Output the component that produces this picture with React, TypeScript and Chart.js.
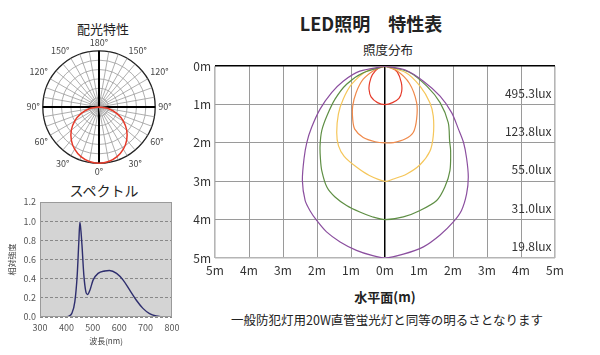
import React, { useEffect, useRef } from 'react';
import { Chart, registerables } from 'chart.js';

Chart.register(...registerables);

const FONT = '"Noto Sans CJK JP", "Noto Sans", sans-serif';
Chart.defaults.font.family = FONT;

// ---------- 配光特性 (polar) ----------
const polarLabels = [
  '180°', '', '', '150°', '', '', '120°', '', '', '90°', '', '',
  '60°', '', '', '30°', '', '', '0°', '', '', '30°', '', '',
  '60°', '', '', '90°', '', '', '120°', '', '', '150°', '', '',
];
const polarValues = [
  0, 0, 0, 0, 0, 0, 0, 0, 0, 0, 1.05, 2.05,
  3.0, 3.86, 4.6, 5.2, 5.64, 5.91, 6.0, 5.91, 5.64, 5.2, 4.6, 3.86,
  3.0, 2.05, 1.05, 0, 0, 0, 0, 0, 0, 0, 0, 0,
];

// ---------- スペクトル ----------
const spectrumNm = [400, 410, 420, 432, 441, 447, 451, 455, 459, 466, 474, 480, 489, 501, 520, 545, 563, 590, 615, 640, 665, 690, 715, 740, 765];
const spectrumIntensity = [0, 0.01, 0.035, 0.16, 0.44, 0.78, 0.99, 0.9, 0.75, 0.44, 0.26, 0.235, 0.28, 0.385, 0.455, 0.48, 0.485, 0.455, 0.385, 0.28, 0.175, 0.09, 0.035, 0.01, 0];

// ---------- 照度分布 (isolux contours, x: horizontal m, y: depth m) ----------
const redX = [0, -0.18, -0.37, -0.45, -0.47, -0.41, -0.22, 0, 0.22, 0.41, 0.49, 0.48, 0.36, 0.18, 0];
const redY = [0, 0.04, 0.22, 0.42, 0.6, 0.8, 0.95, 1.0, 0.95, 0.84, 0.66, 0.43, 0.15, 0.03, 0];
const orangeX = [0, -0.29, -0.64, -0.85, -0.95, -0.95, -0.89, -0.64, -0.29, 0, 0.25, 0.59, 0.83, 0.93, 0.93, 0.72, 0.35, 0];
const orangeY = [0, 0.09, 0.34, 0.69, 1.04, 1.38, 1.64, 1.86, 1.97, 2.0, 1.99, 1.9, 1.73, 1.38, 0.95, 0.45, 0.12, 0];
const yellowX = [0, -0.54, -0.98, -1.23, -1.37, -1.42, -1.37, -1.2, -0.84, -0.46, 0, 0.25, 0.64, 1.03, 1.32, 1.42, 1.42, 1.32, 1.03, 0.62, 0];
const yellowY = [0, 0.13, 0.47, 0.86, 1.24, 1.73, 2.07, 2.35, 2.63, 2.85, 3.0, 2.94, 2.81, 2.57, 2.22, 1.81, 1.3, 0.95, 0.52, 0.17, 0];
const greenX = [0, -0.64, -1.13, -1.47, -1.71, -1.86, -1.91, -1.9, -1.86, -1.71, -1.47, -1.13, -0.74, -0.36, 0, 0.54, 1.03, 1.52, 1.76, 1.91, 1.93, 1.9, 1.86, 1.62, 1.23, 0.7, 0];
const greenY = [0, 0.17, 0.47, 0.86, 1.3, 1.68, 2.07, 2.4, 2.72, 3.15, 3.41, 3.63, 3.8, 3.93, 4.0, 3.93, 3.76, 3.5, 3.15, 2.72, 2.2, 1.95, 1.47, 0.95, 0.52, 0.15, 0];
const purpleX = [0, -0.74, -1.23, -1.57, -1.91, -2.16, -2.3, -2.38, -2.43, -2.35, -2.21, -2.01, -1.72, -1.32, -0.84, -0.36, 0, 0.54, 1.13, 1.62, 2.01, 2.25, 2.4, 2.45, 2.4, 2.31, 2.16, 1.96, 1.62, 1.13, 0.6, 0];
const purpleY = [0, 0.13, 0.39, 0.69, 1.12, 1.6, 1.99, 2.4, 2.98, 3.5, 3.76, 4.02, 4.32, 4.58, 4.8, 4.94, 5.0, 4.9, 4.71, 4.4, 4.06, 3.76, 3.33, 2.89, 2.4, 1.99, 1.64, 1.21, 0.78, 0.39, 0.1, 0];

const luxLabels = ['495.3lux', '123.8lux', '55.0lux', '31.0lux', '19.8lux'];
const luxLabelDepth = [0.72, 1.71, 2.69, 3.7, 4.69];
const luxLabelX = 4.9;

const contours = [
  { x: purpleX, y: purpleY, color: '#8b4f9f' },
  { x: greenX, y: greenY, color: '#5f8f45' },
  { x: yellowX, y: yellowY, color: '#f5c65a' },
  { x: orangeX, y: orangeY, color: '#f08a4b' },
  { x: redX, y: redY, color: '#e53a2a' },
];

function PolarChart() {
  const ref = useRef<HTMLCanvasElement>(null);
  useEffect(() => {
    const chart = new Chart(ref.current!, {
      type: 'radar',
      data: {
        labels: polarLabels,
        datasets: [
          {
            data: polarValues,
            borderColor: '#e53a2a',
            borderWidth: 1.5,
            pointRadius: 0,
            fill: false,
            tension: 0.2,
          },
        ],
      },
      options: {
        animation: false,
        responsive: false,
        devicePixelRatio: 1,
        layout: { padding: 0 },
        plugins: { legend: { display: false }, tooltip: { enabled: false } },
        scales: {
          r: {
            min: 0,
            max: 6,
            ticks: { display: false, stepSize: 1 },
            grid: {
              circular: true,
              color: (c: any) => (c.index === 6 ? '#222' : '#9a9a9a'),
              lineWidth: (c: any) => (c.index === 6 ? 1.3 : 0.8),
            },
            angleLines: {
              color: (c: any) => (c.index % 9 === 0 ? '#000' : '#9a9a9a'),
              lineWidth: (c: any) => (c.index % 9 === 0 ? 2 : 0.8),
            },
            pointLabels: { font: { size: 9, family: FONT }, color: '#444', padding: 3 },
          },
        },
      },
    });
    return () => chart.destroy();
  }, []);
  return <canvas ref={ref} width={148} height={140} style={{ position: 'absolute', left: 25, top: 38 }} />;
}

const spectrumBg = {
  id: 'spectrumBg',
  beforeDraw(chart: any) {
    const { ctx, chartArea: a } = chart;
    ctx.save();
    ctx.fillStyle = '#d4d4d4';
    ctx.fillRect(a.left, a.top, a.right - a.left, a.bottom - a.top);
    ctx.restore();
  },
  afterDraw(chart: any) {
    const { ctx, chartArea: a } = chart;
    ctx.save();
    ctx.strokeStyle = '#9a9a9a';
    ctx.lineWidth = 1;
    ctx.strokeRect(a.left + 0.5, a.top + 0.5, a.right - a.left - 1, a.bottom - a.top - 1);
    ctx.restore();
  },
};

function SpectrumChart() {
  const ref = useRef<HTMLCanvasElement>(null);
  useEffect(() => {
    const chart = new Chart(ref.current!, {
      type: 'scatter',
      data: {
        datasets: [
          {
            data: spectrumNm.map((x, i) => ({ x, y: spectrumIntensity[i] })),
            showLine: true,
            borderColor: '#2e2e6e',
            borderWidth: 1.4,
            pointRadius: 0,
            cubicInterpolationMode: 'monotone',
          },
        ],
      },
      options: {
        animation: false,
        responsive: false,
        devicePixelRatio: 1,
        layout: { padding: { top: 12, right: 13, bottom: 3, left: 0 } },
        plugins: { legend: { display: false }, tooltip: { enabled: false } },
        scales: {
          x: {
            type: 'linear',
            min: 300,
            max: 800,
            ticks: { stepSize: 100, font: { size: 9 }, color: '#555', padding: 5, maxRotation: 0 },
            grid: { display: false, drawTicks: false },
            border: { display: false },
            title: { display: true, text: '波長(nm)', font: { size: 8 }, color: '#444', padding: { top: 0, bottom: 1 } },
            afterFit: (s: any) => { s.height = 30; },
          },
          y: {
            min: 0,
            max: 1.2,
            ticks: { stepSize: 0.2, font: { size: 9 }, color: '#555', padding: 4, callback: (v: any) => Number(v).toFixed(1) },
            grid: { color: '#888', drawTicks: false, lineWidth: 1 },
            border: { display: false, dash: [3, 2] },
            title: { display: true, text: '相対強度', font: { size: 8 }, color: '#444', padding: { top: 7, bottom: 0 } },
            afterFit: (s: any) => { s.width = 40; },
          },
        },
      },
      plugins: [spectrumBg],
    });
    return () => chart.destroy();
  }, []);
  return <canvas ref={ref} width={185} height={160} style={{ position: 'absolute', left: 0, top: 190 }} />;
}

const luxPlugin = {
  id: 'luxLabels',
  afterDatasetsDraw(chart: any) {
    const { ctx, scales } = chart;
    ctx.save();
    ctx.font = `12px ${FONT}`;
    ctx.fillStyle = '#333';
    ctx.textAlign = 'right';
    ctx.textBaseline = 'middle';
    luxLabels.forEach((t, i) => {
      ctx.fillText(t, scales.x.getPixelForValue(luxLabelX), scales.y.getPixelForValue(luxLabelDepth[i]));
    });
    ctx.restore();
  },
};

function IsoluxChart() {
  const ref = useRef<HTMLCanvasElement>(null);
  useEffect(() => {
    const chart = new Chart(ref.current!, {
      type: 'scatter',
      data: {
        datasets: contours.map((c) => ({
          data: c.x.map((x, i) => ({ x, y: c.y[i] })),
          showLine: true,
          borderColor: c.color,
          borderWidth: 1.2,
          pointRadius: 0,
          fill: false,
          tension: 0.3,
        })),
      },
      options: {
        animation: false,
        responsive: false,
        devicePixelRatio: 1,
        layout: { padding: { top: 10, right: 15, bottom: 0, left: 0 } },
        plugins: { legend: { display: false }, tooltip: { enabled: false } },
        scales: {
          x: {
            type: 'linear',
            min: -5,
            max: 5,
            ticks: {
              stepSize: 1,
              autoSkip: false,
              maxRotation: 0,
              font: { size: 12 },
              color: '#333',
              padding: 5,
              callback: (v: any) => `${Math.abs(Number(v))}m`,
            },
            grid: {
              drawTicks: false,
              color: (c: any) => (c.tick.value === 0 ? '#000' : Math.abs(c.tick.value) === 5 ? '#b5b5b5' : '#9a9a9a'),
              lineWidth: (c: any) => (c.tick.value === 0 ? 1.5 : Math.abs(c.tick.value) === 5 ? 1.6 : 1),
            },
            border: { display: false },
            afterFit: (s: any) => { s.height = 20; },
          },
          y: {
            reverse: true,
            min: 0,
            max: 5,
            ticks: { stepSize: 1, font: { size: 12 }, color: '#333', padding: 4, callback: (v: any) => `${v}m` },
            grid: {
              drawTicks: false,
              color: (c: any) => (c.tick.value === 0 ? '#000' : c.tick.value === 5 ? '#b5b5b5' : '#9a9a9a'),
              lineWidth: (c: any) => (c.tick.value === 0 ? 1.5 : c.tick.value === 5 ? 1.6 : 1),
            },
            border: { display: false },
            afterFit: (s: any) => { s.width = 25; },
          },
        },
      },
      plugins: [luxPlugin],
    });
    return () => chart.destroy();
  }, []);
  return <canvas ref={ref} width={380} height={223} style={{ position: 'absolute', left: 190, top: 55 }} />;
}

const Label = ({ x, y, size, bold, children }: any) => (
  <div
    style={{
      position: 'absolute',
      left: x,
      top: y,
      transform: 'translate(-50%, -50%)',
      whiteSpace: 'nowrap',
      fontFamily: FONT,
      fontSize: size,
      fontWeight: bold ? 700 : 400,
      color: '#222',
      lineHeight: 1,
    }}
  >
    {children}
  </div>
);

export default function App() {
  return (
    <div style={{ position: 'absolute', left: 0, top: 0, width: 600, height: 355, background: '#fff', overflow: 'hidden' }}>
      <Label x={103} y={28} size={13}>配光特性</Label>
      <PolarChart />
      <Label x={104} y={190} size={14}>スペクトル</Label>
      <SpectrumChart />
      <Label x={371} y={23} size={18} bold>LED照明　特性表</Label>
      <Label x={388} y={50} size={12.5}>照度分布</Label>
      <IsoluxChart />
      <Label x={385} y={296} size={13} bold>水平面(m)</Label>
      <Label x={387} y={320} size={12.5}>一般防犯灯用20W直管蛍光灯と同等の明るさとなります</Label>
    </div>
  );
}
